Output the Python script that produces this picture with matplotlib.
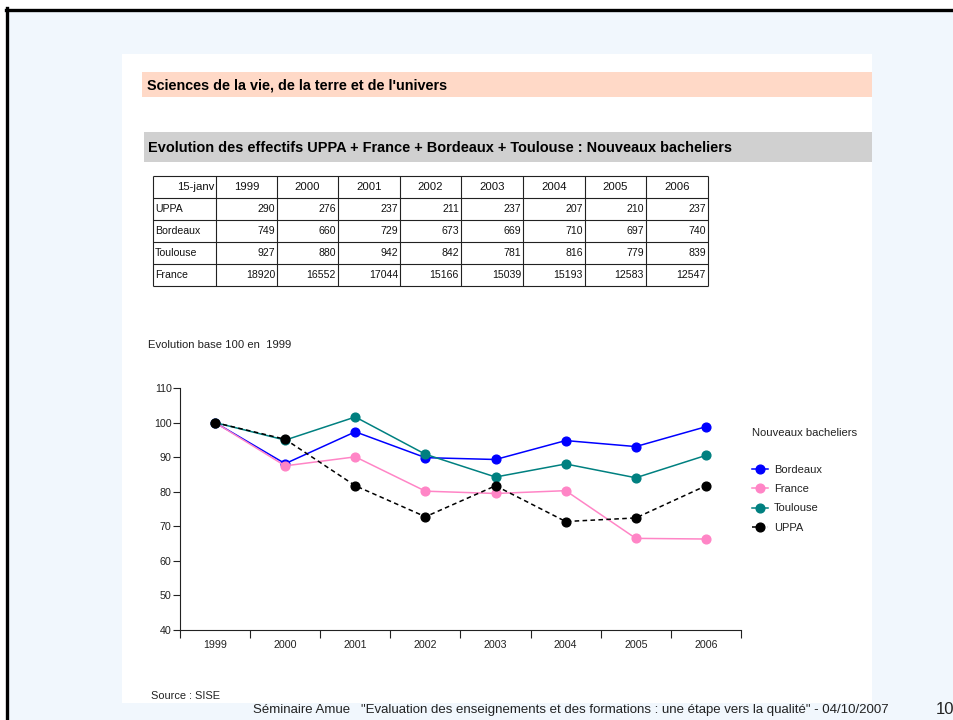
import matplotlib
matplotlib.use("Agg")
import matplotlib.pyplot as plt
from matplotlib.patches import Rectangle
from matplotlib.lines import Line2D

plt.rcParams['font.family'] = ['Liberation Sans', 'DejaVu Sans']

# ---------------- data ----------------
years = [1999, 2000, 2001, 2002, 2003, 2004, 2005, 2006]
header_label = "15-janv"
row_names = ["UPPA", "Bordeaux", "Toulouse", "France"]
uppa = [290, 276, 237, 211, 237, 207, 210, 237]
bordeaux = [749, 660, 729, 673, 669, 710, 697, 740]
toulouse = [927, 880, 942, 842, 781, 816, 779, 839]
france = [18920, 16552, 17044, 15166, 15039, 15193, 12583, 12547]
yticks = [40, 50, 60, 70, 80, 90, 100, 110]

title1 = "Sciences de la vie, de la terre et de l'univers"
title2 = "Evolution des effectifs UPPA + France + Bordeaux + Toulouse : Nouveaux bacheliers"
subtitle = "Evolution base 100 en  1999"
legend_title = "Nouveaux bacheliers"
source = "Source : SISE"
footer = "Séminaire Amue   \"Evaluation des enseignements et des formations : une étape vers la qualité\" - 04/10/2007"
page = "10"

W, H = 954, 720
fig = plt.figure(figsize=(W / 100, H / 100), dpi=100)
fig.patch.set_facecolor("white")


def fx(x):
    return x / W


def fy(y):
    return 1 - y / H


def rect(x0, y0, x1, y1, color, z=0):
    fig.patches.append(Rectangle((fx(x0), fy(y1)), (x1 - x0) / W, (y1 - y0) / H,
                                 transform=fig.transFigure, color=color, zorder=z, lw=0))


# background slide
rect(8, 9, W, H, "#F1F7FD", 0)
rect(122, 54, 872, 703, "white", 1)
rect(142, 72, 872, 97, "#FFD9C7", 2)
rect(144, 132, 872, 162, "#D0D0D0", 2)
fig.lines.append(Line2D([fx(6), fx(W)], [fy(9.5), fy(9.5)], transform=fig.transFigure,
                        color="black", lw=2.4, zorder=3))
fig.lines.append(Line2D([fx(7.5), fx(7.5)], [fy(8), fy(H)], transform=fig.transFigure,
                        color="black", lw=2.4, zorder=3))

renderer = fig.canvas.get_renderer()


def fit_text(x, y, s, width, size0=10, **kw):
    t = fig.text(fx(x), fy(y), s, fontsize=size0, va="center", ha="left", zorder=5, **kw)
    w = t.get_window_extent(renderer).width
    t.set_fontsize(size0 * width / w)
    return t


fit_text(147, 85, title1, 300, weight="bold", color="black")
fit_text(148, 147.5, title2, 584, weight="bold", color="black")
fit_text(148, 345, subtitle, 142, color="#222222")
fit_text(151, 696, source, 69, color="#222222")
fit_text(253, 710, footer, 640, color="#222222")
fig.text(fx(936), fy(710), page, fontsize=12, va="center", ha="left", zorder=5, color="#222222")

# ---------------- table ----------------
col_edges = [153, 216, 277, 338, 400, 461, 523, 585, 646, 708]
row_edges = [176, 198, 220, 242, 264, 286]
axt = fig.add_axes([fx(153), fy(286), (708 - 153) / W, (286 - 176) / H])
axt.set_xlim(153, 708)
axt.set_ylim(286, 176)
axt.axis("off")
axt.patch.set_alpha(0)
axt.set_zorder(6)
for x in col_edges:
    axt.plot([x, x], [176, 286], color="#222222", lw=0.8, clip_on=False, solid_capstyle="butt")
for y in row_edges:
    axt.plot([153, 708], [y, y], color="#222222", lw=0.8, clip_on=False, solid_capstyle="butt")
hfs, nfs = 8.2, 7.6
ymid = lambda i: (row_edges[i] + row_edges[i + 1]) / 2
axt.text(col_edges[1] - 2, ymid(0), header_label, ha="right", va="center", fontsize=hfs,
         color="#111111")
for j, yr in enumerate(years):
    axt.text((col_edges[j + 1] + col_edges[j + 2]) / 2, ymid(0), str(yr), ha="center",
             va="center", fontsize=hfs, color="#111111")
table_rows = [uppa, bordeaux, toulouse, france]
for i, (name, vals) in enumerate(zip(row_names, table_rows)):
    axt.text(col_edges[0] + 2, ymid(i + 1), name, ha="left", va="center", fontsize=nfs,
             color="#111111")
    for j, v in enumerate(vals):
        axt.text(col_edges[j + 2] - 2, ymid(i + 1), str(v), ha="right", va="center",
                 fontsize=nfs, color="#111111")

# ---------------- chart ----------------
ax = fig.add_axes([fx(180), fy(630), (741 - 180) / W, (630 - 388) / H])
ax.set_zorder(6)
ax.patch.set_alpha(0)
xs = [i + 0.5 for i in range(len(years))]


def base100(v):
    return [100.0 * a / v[0] for a in v]


series = [
    ("Bordeaux", bordeaux, "#0000FF", "-"),
    ("France", france, "#FF85C6", "-"),
    ("Toulouse", toulouse, "#008080", "-"),
    ("UPPA", uppa, "black", (0, (3, 2.2))),
]
handles = []
for name, vals, col, ls in series:
    h, = ax.plot(xs, base100(vals), color=col, ls=ls, lw=1.1, marker="o", ms=6.3,
                 mfc=col, mec=col, label=name, clip_on=False)
    handles.append(h)

ax.set_xlim(0, len(years))
ax.set_ylim(40, 110)
ax.set_yticks(yticks)
ax.set_yticklabels([str(v) for v in yticks])
ax.set_xticks(range(len(years) + 1))
ax.set_xticklabels([])
ax.set_xticks(xs, minor=True)
ax.set_xticklabels([str(y) for y in years], minor=True)
ax.tick_params(axis="x", which="major", length=6, width=0.8, direction="out", color="#222222")
ax.tick_params(axis="x", which="minor", length=0, pad=7.5, labelsize=7.7, labelcolor="#222222")
ax.tick_params(axis="y", length=5, width=0.8, direction="out", pad=1, labelsize=7.7,
               color="#222222", labelcolor="#222222")
for s in ["top", "right"]:
    ax.spines[s].set_visible(False)
for s in ["left", "bottom"]:
    ax.spines[s].set_color("#222222")
    ax.spines[s].set_linewidth(0.8)

fit_text(752.5, 433, legend_title, 105, color="#222222")
leg = ax.legend(handles=handles, loc="upper left", bbox_to_anchor=(fx(752), fy(464.5)),
                bbox_transform=fig.transFigure, frameon=False, fontsize=8, borderpad=0,
                borderaxespad=0, handlelength=1.45, handletextpad=0.55, labelspacing=0.85,
                markerscale=1.0)
for t in leg.get_texts():
    t.set_color("#222222")

fig.savefig("out.png", dpi=100, facecolor=fig.get_facecolor())
